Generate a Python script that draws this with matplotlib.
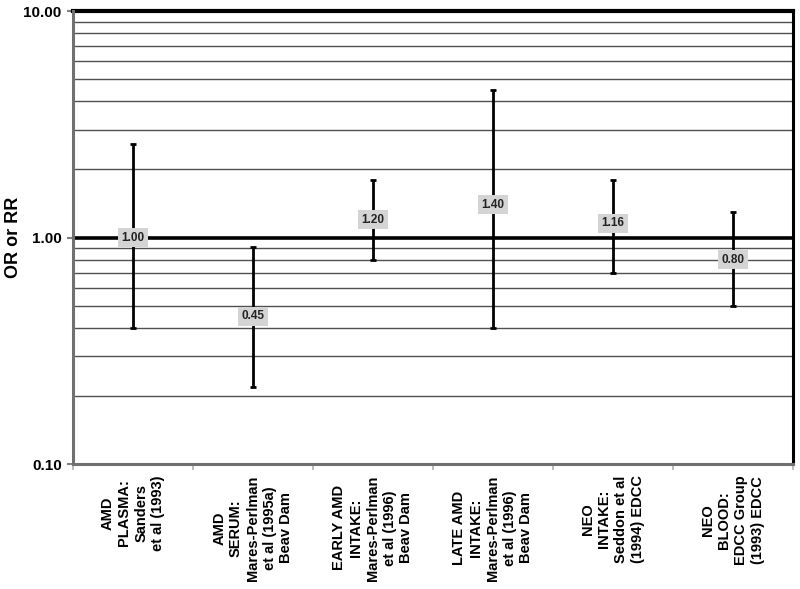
import matplotlib
matplotlib.use("Agg")
import matplotlib.pyplot as plt
from matplotlib.ticker import FixedLocator, NullFormatter, NullLocator
import numpy as np

plt.rcParams['font.family'] = ['Liberation Sans', 'DejaVu Sans']

categories = [
    "AMD\nPLASMA:\nSanders\net al (1993)",
    "AMD\nSERUM:\nMares-Perlman\net al (1995a)\nBeav Dam",
    "EARLY AMD\nINTAKE:\nMares-Perlman\net al (1996)\nBeav Dam",
    "LATE AMD\nINTAKE:\nMares-Perlman\net al (1996)\nBeav Dam",
    "NEO\nINTAKE:\nSeddon et al\n(1994) EDCC",
    "NEO\nBLOOD:\nEDCC Group\n(1993) EDCC",
]
estimates = [1.00, 0.45, 1.20, 1.40, 1.16, 0.80]
lower = [0.40, 0.22, 0.80, 0.40, 0.70, 0.50]
upper = [2.60, 0.91, 1.80, 4.50, 1.80, 1.30]
ytick_values = [0.1, 1.0, 10.0]

fig = plt.figure(figsize=(8, 5.89), dpi=100)
ax = fig.add_axes([0.091, 0.212, 0.9, 0.769])

ax.set_yscale('log')
ax.set_ylim(0.1, 10)
ax.set_xlim(-0.5, len(categories) - 0.5)

# gridlines
for dec in [0.1, 1.0]:
    for m in range(2, 10):
        ax.axhline(dec * m, color='#505050', lw=1.0, zorder=1)
ax.axhline(1.0, color='black', lw=2.6, zorder=2)
ax.axhline(10.0, color='black', lw=3.0, zorder=2, clip_on=False)

x = np.arange(len(categories))
est = np.array(estimates)
yerr = np.vstack([est - np.array(lower), np.array(upper) - est])
ax.errorbar(x, est, yerr=yerr, fmt='none', ecolor='black', elinewidth=2.0,
            capsize=2.0, capthick=2.0, zorder=3)

for xi, v in zip(x, estimates):
    ax.text(xi, v, f"{v:.2f}", ha='center', va='center', fontsize=8.5, fontweight='bold',
            color='#222222', zorder=5,
            bbox=dict(boxstyle='square,pad=0.3', fc='#d4d4d4', ec='none'))

# y axis
ax.yaxis.set_major_locator(FixedLocator(ytick_values))
ax.yaxis.set_minor_locator(NullLocator())
ax.set_yticklabels([f"{v:.2f}" for v in ytick_values], fontsize=11, fontweight='bold')
ax.tick_params(axis='y', which='major', length=4, color='#808080', width=1.5, pad=4)
ax.set_ylabel("OR or RR", fontsize=13, fontweight='bold', va='center')
ax.yaxis.set_label_coords(-0.083, 0.5)

# x axis
ax.set_xticks(x)
ax.set_xticklabels(categories, rotation=90, fontsize=10.5, fontweight='bold',
                   linespacing=1.25, ha='center', va='top', multialignment='center')
ax.tick_params(axis='x', which='major', length=0, pad=8)
ax.xaxis.set_minor_locator(FixedLocator(np.arange(-0.5, len(categories), 1.0)))
ax.xaxis.set_minor_formatter(NullFormatter())
ax.tick_params(axis='x', which='minor', length=4, color='#b0b0b0', width=1.2)

for side in ['left', 'bottom']:
    ax.spines[side].set_color('#707070')
    ax.spines[side].set_linewidth(2.2)
ax.spines['right'].set_color('black')
ax.spines['right'].set_linewidth(2.2)
ax.spines['top'].set_visible(False)

fig.savefig('out.png', dpi=100)
